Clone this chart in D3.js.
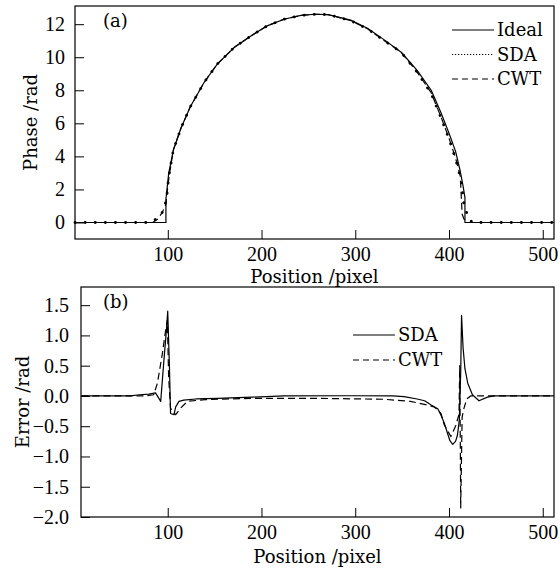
<!DOCTYPE html>
<html>
<head>
<meta charset="utf-8">
<script src="https://cdn.jsdelivr.net/npm/d3@7"></script>
<style>
  body { margin: 0; background: #fff; }
  text { fill: #000; }
</style>
</head>
<body>
<div id="chart"></div>
<script>
// ---- data ----
// (a) phase
const idealX = [1, 98, 98, 101, 106, 114, 124, 139, 153, 171, 189, 206, 224, 242, 257, 271, 295, 313, 331, 349, 366, 381, 391, 400, 407, 412, 415, 417, 417, 512];
const idealY = [0, 0, 1.4, 3.0, 4.4, 5.7, 7.0, 8.5, 9.6, 10.6, 11.3, 11.9, 12.3, 12.53, 12.6, 12.58, 12.25, 11.75, 11.05, 10.3, 9.2, 8.0, 6.7, 5.4, 4.3, 3.1, 2.2, 1.5, 0, 0];

const sdaX = [1, 80, 86, 92.5, 96, 99, 101, 106, 114, 124, 139, 153, 171, 189, 206, 224, 242, 257, 271, 295, 313, 331, 349, 366, 381, 391, 400, 407, 409, 412.7, 416, 419, 421, 423, 426, 512];
const sdaY = [0, 0, 0.15, 0.47, 0.8, 1.6, 2.8, 4.4, 5.7, 7.0, 8.5, 9.6, 10.6, 11.3, 11.9, 12.3, 12.53, 12.6, 12.58, 12.22, 11.72, 11.0, 10.3, 9.1, 7.8, 6.4, 5.05, 3.85, 3.4, 2.6, 1.07, 0.57, 0.36, 0.1, 0, 0];

const cwtX = [1, 84, 89, 94, 98, 100, 102, 106, 114, 124, 139, 153, 171, 189, 206, 224, 242, 257, 271, 295, 313, 331, 349, 366, 381, 391, 400, 407, 412, 414, 416, 420, 512];
const cwtY = [0, 0, 0.2, 0.6, 1.1, 2.2, 3.0, 4.4, 5.7, 7.0, 8.5, 9.6, 10.6, 11.3, 11.9, 12.3, 12.53, 12.6, 12.58, 12.22, 11.72, 11.0, 10.3, 9.1, 7.85, 6.45, 5.1, 3.9, 2.8, 0.5, 0.2, 0, 0];

// (b) error
const errSdaX = [8, 60, 70, 80, 87, 92.5, 96, 98.7, 100, 101.8, 103, 106.7, 108.5, 112, 117, 130, 153, 190, 224, 295, 340, 352, 366, 374, 381, 388, 391, 395, 398.5, 401, 404, 407, 409, 411, 412.5, 413.4, 415, 417, 420, 425, 432, 441, 448, 512];
const errSdaY = [0, 0, 0.02, 0.03, 0.05, -0.09, 0.6, 1.1, 1.4, 0.5, -0.29, -0.31, -0.18, -0.09, -0.07, -0.05, -0.04, -0.02, 0, 0.003, 0, -0.01, -0.05, -0.08, -0.15, -0.21, -0.3, -0.45, -0.62, -0.74, -0.8, -0.75, -0.65, -0.4, 0.4, 1.33, 0.8, 0.45, 0.21, 0.02, -0.08, -0.02, 0, 0];

const errCwtX = [8, 75, 85, 89, 94.3, 97.8, 99.6, 101, 103, 105, 108.5, 113.8, 121, 140, 188, 260, 331, 359, 377, 384, 388, 391.4, 395, 402, 407, 410.6, 411.5, 412.5, 414, 416, 419, 423, 512];
const errCwtY = [0, 0, 0.02, 0.21, 0.7, 1.09, 1.25, 0.3, -0.2, -0.26, -0.31, -0.2, -0.09, -0.06, -0.04, -0.04, -0.055, -0.09, -0.15, -0.18, -0.23, -0.29, -0.48, -0.67, -0.5, -0.31, 0.5, -1.85, -0.35, -0.2, -0.05, 0, 0];

const phaseTicks = [0, 2, 4, 6, 8, 10, 12];
const errTicks = [-2.0, -1.5, -1.0, -0.5, 0.0, 0.5, 1.0, 1.5];
const posTicks = [100, 200, 300, 400, 500];

// ---- layout ----
const W = 560, H = 568;
const tickFont = "'Liberation Serif', serif";
const textFont = "'DejaVu Serif', serif";

const svg = d3.select("#chart")
  .append("svg")
  .attr("width", W)
  .attr("height", H)
  .style("background", "#fff");

const zip = (xs, ys) => xs.map((x, i) => [x, ys[i]]);

function panel(opt) {
  const x = d3.scaleLinear().domain(opt.xDomain).range([opt.left, opt.right]);
  const y = d3.scaleLinear().domain(opt.yDomain).range([opt.bottom, opt.top]);

  // x axis, inward ticks
  const gx = svg.append("g")
    .attr("transform", `translate(0,${opt.bottom})`)
    .call(d3.axisBottom(x).tickValues(posTicks).tickSizeInner(-9).tickSizeOuter(0).tickPadding(8));
  gx.select(".domain").remove();
  gx.selectAll("text").style("font-family", tickFont).style("font-size", "20px");

  // y axis, inward ticks
  const gy = svg.append("g")
    .attr("transform", `translate(${opt.left},0)`)
    .call(d3.axisLeft(y).tickValues(opt.yTicks).tickFormat(opt.fmt).tickSizeInner(-9).tickSizeOuter(0).tickPadding(opt.yPad));
  gy.select(".domain").remove();
  gy.selectAll("text").style("font-family", tickFont).style("font-size", "20px");

  // frame
  svg.append("rect")
    .attr("x", opt.left).attr("y", opt.top)
    .attr("width", opt.right - opt.left).attr("height", opt.bottom - opt.top)
    .attr("fill", "none").attr("stroke", "#000").attr("stroke-width", 1.2);

  const line = d3.line().x(d => x(d[0])).y(d => y(d[1]));

  opt.series.forEach(s => {
    svg.append("path")
      .datum(s.data)
      .attr("d", line)
      .attr("fill", "none")
      .attr("stroke", "#000")
      .attr("stroke-width", s.width)
      .attr("stroke-dasharray", s.dash)
      .attr("stroke-linecap", s.cap || "butt")
      .attr("stroke-linejoin", "round");
  });

  // titles
  svg.append("text")
    .attr("x", (opt.left + opt.right) / 2)
    .attr("y", opt.xTitleY)
    .attr("text-anchor", "middle")
    .style("font-family", textFont).style("font-size", "18px")
    .text("Position /pixel");

  svg.append("text")
    .attr("transform", `translate(${opt.yTitleX},${(opt.top + opt.bottom) / 2}) rotate(-90)`)
    .attr("text-anchor", "middle")
    .style("font-family", textFont).style("font-size", "18px")
    .text(opt.yTitle);

  svg.append("text")
    .attr("x", 103).attr("y", opt.top + 21)
    .style("font-family", textFont).style("font-size", "18px")
    .text(opt.tag);

  // legend
  opt.legend.forEach((d, i) => {
    const ly = opt.legendY + i * opt.legendStep;
    svg.append("line")
      .attr("x1", opt.legendX).attr("x2", opt.legendX + 42)
      .attr("y1", ly).attr("y2", ly)
      .attr("stroke", "#000").attr("stroke-width", 1.1)
      .attr("stroke-dasharray", d.dash);
    svg.append("text")
      .attr("x", opt.legendX + 45).attr("y", ly + 6)
      .style("font-family", textFont).style("font-size", "18px")
      .text(d.name);
  });
}

panel({
  left: 75, right: 554, top: 6, bottom: 239,
  xDomain: [1, 512], yDomain: [-1, 13.1],
  yTicks: phaseTicks, fmt: d3.format("d"), yPad: 10,
  xTitleY: 283, yTitleX: 37, yTitle: "Phase /rad", tag: "(a)",
  series: [
    { data: zip(idealX, idealY), width: 1.2, dash: null },
    { data: zip(cwtX, cwtY), width: 1.2, dash: "7,4" },
    { data: zip(sdaX, sdaY), width: 2.8, dash: "0.1,10", cap: "round" }
  ],
  legend: [
    { name: "Ideal", dash: null },
    { name: "SDA", dash: "1.2,1.8" },
    { name: "CWT", dash: "6,4" }
  ],
  legendX: 452, legendY: 30, legendStep: 24.5
});

panel({
  left: 81, right: 554, top: 287, bottom: 517,
  xDomain: [7.5, 512], yDomain: [-2, 1.8],
  yTicks: errTicks, fmt: d3.format(".1f"), yPad: 12,
  xTitleY: 563, yTitleX: 29, yTitle: "Error /rad", tag: "(b)",
  series: [
    { data: zip(errSdaX, errSdaY), width: 1.2, dash: null },
    { data: zip(errCwtX, errCwtY), width: 1.2, dash: "7,4" }
  ],
  legend: [
    { name: "SDA", dash: null },
    { name: "CWT", dash: "6,4" }
  ],
  legendX: 353, legendY: 335, legendStep: 25
});
</script>
</body>
</html>
